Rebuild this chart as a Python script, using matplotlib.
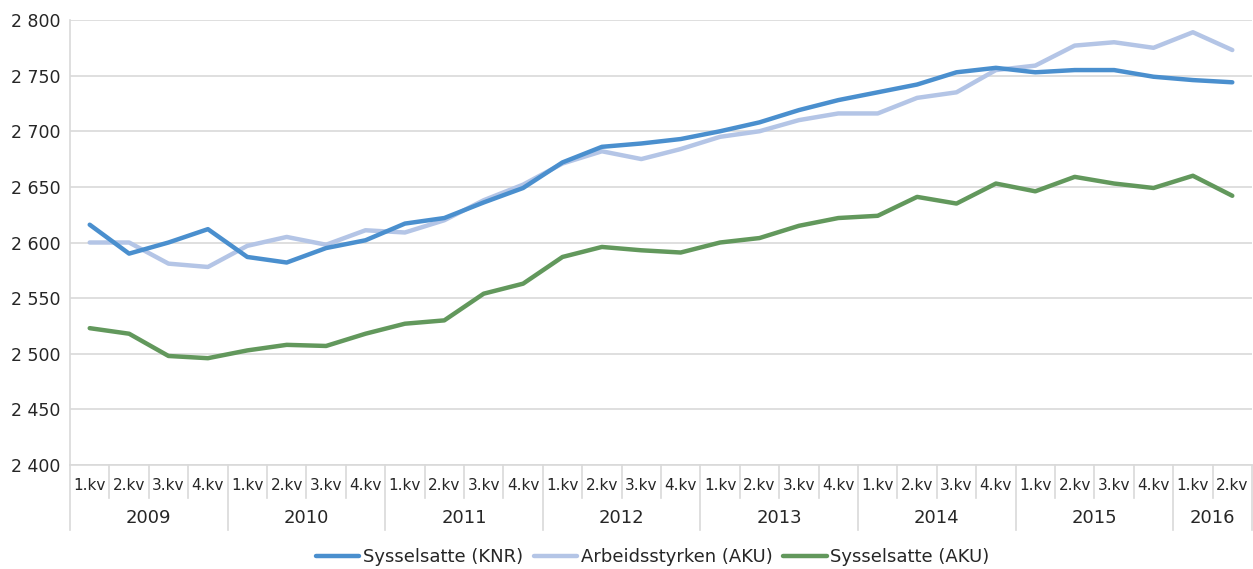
import numpy as np
import matplotlib
matplotlib.use("Agg")
import matplotlib.pyplot as plt

years = ["2009", "2010", "2011", "2012", "2013", "2014", "2015", "2016"]
quarters = ["1.kv", "2.kv", "3.kv", "4.kv"]
n_quarters = [4, 4, 4, 4, 4, 4, 4, 2]

knr = [2616, 2590, 2600, 2612, 2587, 2582, 2595, 2602,
       2617, 2622, 2636, 2649, 2672, 2686, 2689, 2693,
       2700, 2708, 2719, 2728, 2735, 2742, 2753, 2757,
       2753, 2755, 2755, 2749, 2746, 2744]
arbeid = [2600, 2600, 2581, 2578, 2597, 2605, 2598, 2611,
          2609, 2620, 2638, 2652, 2671, 2682, 2675, 2684,
          2695, 2700, 2710, 2716, 2716, 2730, 2735, 2755,
          2759, 2777, 2780, 2775, 2789, 2773]
syss_aku = [2523, 2518, 2498, 2496, 2503, 2508, 2507, 2518,
            2527, 2530, 2554, 2563, 2587, 2596, 2593, 2591,
            2600, 2604, 2615, 2622, 2624, 2641, 2635, 2653,
            2646, 2659, 2653, 2649, 2660, 2642]

c_knr = "#4a8fce"
c_arb = "#b4c5e6"
c_aku = "#62985c"
txt = "#262626"
grid = "#d9d9d9"

fig = plt.figure(figsize=(12.53, 5.69), dpi=100)
ax = fig.add_axes([70/1253, 1-465/569, 1182/1253, 445/569])

x = np.arange(len(knr))
ax.plot(x, knr, color=c_knr, lw=3.2, label="Sysselsatte (KNR)", solid_capstyle="round", zorder=3)
ax.plot(x, arbeid, color=c_arb, lw=3.2, label="Arbeidsstyrken (AKU)", solid_capstyle="round", zorder=2)
ax.plot(x, syss_aku, color=c_aku, lw=3.2, label="Sysselsatte (AKU)", solid_capstyle="round", zorder=3)

ax.set_xlim(-0.5, len(knr) - 0.5)
ax.set_ylim(2400, 2800)
yt = np.arange(2400, 2801, 50)
ax.set_yticks(yt)
ax.set_yticklabels([f"{v:,}".replace(",", " ") for v in yt], fontsize=12.5, color=txt)
ax.tick_params(axis="y", length=0, pad=7)
ax.set_xticks([])
ax.grid(axis="y", color=grid, lw=1.2)
ax.set_axisbelow(True)
for s in ["top", "right"]:
    ax.spines[s].set_visible(False)
ax.spines["left"].set_color(grid)
ax.spines["bottom"].set_color(grid)
ax.spines["left"].set_linewidth(1.2)
ax.spines["bottom"].set_linewidth(1.2)

# two-level category axis
tr = ax.get_xaxis_transform()
h = 445.0
q_y = -21/h
y_y = -53/h
q_bot = -33/h
y_bot = -65/h
pos = 0
for yr, n in zip(years, n_quarters):
    for k in range(n):
        ax.text(pos + k, q_y, quarters[k], transform=tr, ha="center", va="center",
                fontsize=11, color=txt)
        if k > 0:
            ax.plot([pos + k - 0.5] * 2, [0, q_bot], transform=tr, color=grid,
                    lw=1.2, clip_on=False)
    ax.plot([pos - 0.5] * 2, [0, y_bot], transform=tr, color=grid, lw=1.2, clip_on=False)
    ax.text(pos + (n - 1) / 2, y_y, yr, transform=tr, ha="center", va="center",
            fontsize=13, color=txt)
    pos += n
ax.plot([pos - 0.5] * 2, [0, y_bot], transform=tr, color=grid, lw=1.2, clip_on=False)

fig.legend(loc="center", bbox_to_anchor=(0.521, 0.021), ncol=3, frameon=False,
           fontsize=13, handlelength=2.4, handletextpad=0.2, columnspacing=0.6,
           labelcolor=txt)

fig.savefig("out.png", dpi=100)
